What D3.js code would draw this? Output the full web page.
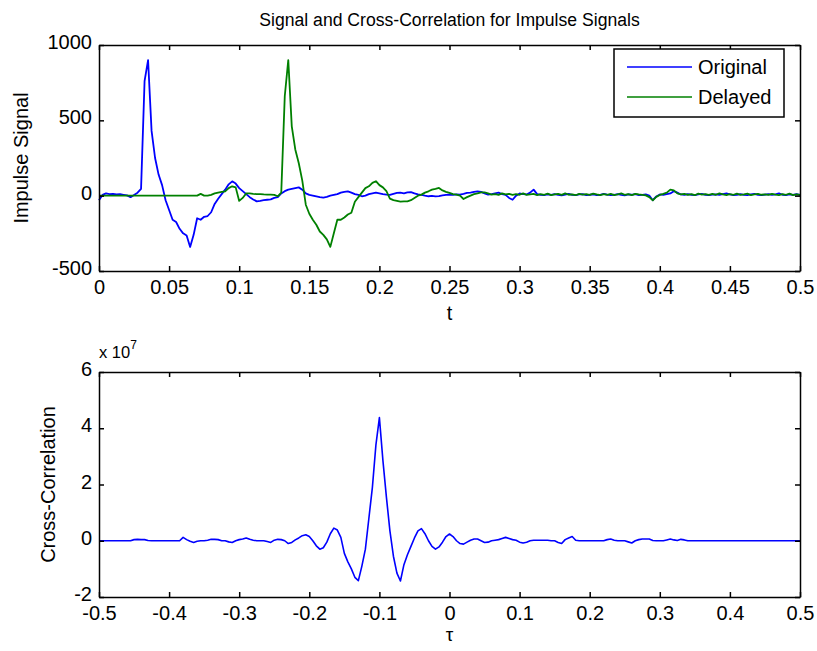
<!DOCTYPE html>
<html>
<head>
<meta charset="utf-8">
<script src="https://cdn.jsdelivr.net/npm/d3@7/dist/d3.min.js"></script>
<style>
  body { margin:0; background:#fff; }
  svg { display:block; font-family:"Liberation Sans", Arial, sans-serif; }
  .axis path, .axis line { stroke:#000; stroke-width:1.5; }
  .axis text { font-size:20px; fill:#000; font-family:"Liberation Sans", Arial, sans-serif; }
</style>
</head>
<body>
<svg id="chart" width="817" height="651"></svg>
<script>
// time grid of the two impulse signals (s) and lag grid of the correlation (s)
const signalTime = d3.range(201).map(i => i * 0.0025);
const lagTime = d3.range(201).map(i => -0.5 + i * 0.005);

// rows of 10 samples = 0.025 s each
const original = [
  -30, 5, 15, 10, 12, 8, 10, 6, 2, -10,
  5, 20, 45, 760, 900, 430, 250, 140, 70, -30,
  -95, -160, -175, -220, -250, -265, -340, -260, -150, -160,
  -140, -135, -110, -55, -20, 10, 40, 75, 95, 80,
  50, 30, 10, -10, -25, -38, -35, -30, -27, -25,
  -15, -10, 15, 30, 40, 45, 50, 55, 40, 15,
  5, 0, -5, -10, -13, -8, 0, 5, 10, 20,
  25, 29, 20, 10, 5, -4, 0, 10, 15, 20,
  15, 10, 7, 5, 12, 18, 20, 15, 22, 24,
  15, 8, 5, 0, -4, -2, -5, -3, 2, 5,
  7, 5, 8, 7, 12, 18, 20, 25, 29, 25,
  15, 7, 10, 15, 20, 10, 5, -15, -27, 0,
  15, 10, 8, 20, 40, 10, 5, 3, 8, 5,
  10, 6, 2, 7, 12, 5, 3, 8, 10, 4,
  6, 9, 3, 5, 12, 7, 4, 6, 10, 5,
  2, 8, 6, 10, 4, 5, 8, 0, -30, -5,
  8, 5, 10, 15, 30, 20, 8, 5, 10, 6,
  4, 8, 12, 6, 3, 7, 9, 5, 10, 15,
  8, 4, 6, 10, 5, 3, 8, 12, 6, 4,
  7, 10, 5, 8, 15, 6, 3, 8, 5, 10,
  6
];

const delayed = [
  0, 0, 0, 0, 0, 0, 0, 0, 0, 0,
  0, 0, 0, 0, 0, 0, 0, 0, 0, 0,
  0, 0, 0, 0, 0, 0, 0, 0, 0, 12,
  0, 0, 5, 15, 20, 25, 29, 50, 62, 55,
  -35, -15, 15, 15, 12, 10, 10, 8, 7, 7,
  5, -4, 20, 660, 900, 460, 307, 215, 100, -60,
  -120, -160, -193, -238, -260, -290, -340, -250, -160, -160,
  -145, -125, -113, -40, -10, 20, 50, 62, 85, 96,
  70, 55, 30, -20, -30, -35, -40, -38, -38, -30,
  -15, 0, 7, 20, 29, 40, 45, 51, 35, 25,
  18, 10, 7, 0, -22, -10, 0, 10, 15, 22,
  22, 15, 7, 10, 5, 15, 8, 12, 5, 10,
  6, 15, 5, 8, 12, 3, 10, 6, 14, 4,
  8, 12, 5, 15, 6, 9, 3, 12, 7, 10,
  5, 14, 8, 3, 10, 6, 12, 4, 9, 15,
  6, 10, 4, 12, 8, 5, 2, -10, -31, -8,
  5, 12, 20, 40, 35, 15, 8, 12, 5, 10,
  3, 14, 7, 10, 5, 12, 6, 15, 8, 4,
  10, 6, 13, 5, 9, 14, 4, 8, 12, 6,
  9, 5, 12, 7, 3, 10, 6, 14, 4, 8,
  5
];

// cross-correlation in units of 1e7, rows of 10 samples = 0.05 s of lag
const crossCorr = [
  0, 0, 0, 0, 0, 0, 0, 0, 0, 0,
  0.04, 0.05, 0.04, 0.04, 0.01, 0, 0, 0, 0, 0,
  0, 0, 0, 0, 0.12, 0.04, -0.02, -0.06, -0.02, 0,
  0, 0.02, 0.05, 0.05, 0.04, 0, 0, -0.04, -0.06, 0,
  0.04, 0.06, 0.1, 0.05, 0.02, 0, 0, 0, -0.03, -0.06,
  0.02, 0.05, 0.04, 0, -0.1, -0.06, 0.03, 0.1, 0.18, 0.21,
  0.15, 0, -0.18, -0.3, -0.25, -0.05, 0.25, 0.45, 0.38, 0.12,
  -0.45, -0.75, -1.0, -1.3, -1.42, -0.9, -0.3, 0.8, 1.9, 3.4,
  4.38, 2.86, 1.55, 0.35, -0.55, -1.15, -1.43, -0.85, -0.5, -0.2,
  0.1, 0.35, 0.43, 0.25, 0, -0.2, -0.3, -0.22, -0.05, 0.15,
  0.24, 0.15, 0, -0.1, -0.12, -0.05, 0.02, 0.06, 0.06, 0,
  -0.06, -0.05, 0, 0.02, 0.04, 0.08, 0.12, 0.08, 0.04, 0.02,
  -0.05, -0.08, -0.05, 0, 0.02, 0.02, 0.02, 0.02, 0.02, 0,
  0, -0.06, -0.1, 0.04, 0.1, 0.15, 0.02, 0, 0, 0,
  0, 0, 0, 0, 0, 0.04, 0.06, 0.02, 0, 0,
  0, -0.04, -0.08, 0, 0.04, 0.06, 0.06, 0.06, 0.01, 0,
  0, 0, 0.03, 0.06, 0.03, 0.01, 0.05, 0.03, 0, 0,
  0, 0, 0, 0, 0, 0, 0, 0, 0, 0,
  0, 0, 0, 0, 0, 0, 0, 0, 0, 0,
  0, 0, 0, 0, 0, 0, 0, 0, 0, 0,
  0
];

const tTicks = [0, 0.05, 0.1, 0.15, 0.2, 0.25, 0.3, 0.35, 0.4, 0.45, 0.5];
const signalTicks = [-500, 0, 500, 1000];
const lagTicks = [-0.5, -0.4, -0.3, -0.2, -0.1, 0, 0.1, 0.2, 0.3, 0.4, 0.5];
const corrTicks = [-2, 0, 2, 4, 6];
const seriesNames = ['Original', 'Delayed'];
const seriesColors = ['#0000ff', '#008000'];

const svg = d3.select('#chart');
const topBox = { x0: 99, x1: 800, y0: 45, y1: 271 },
      botBox = { x0: 99, x1: 800, y0: 372, y1: 597 };

const fmt = d => String(+d.toFixed(2));

function drawAxes(box, x, y){
    const g = svg.append('g');
    g.append('g').attr('class','axis').attr('transform',`translate(0,${box.y1})`)
        .call(d3.axisBottom(x).tickValues(x.ticksArr).tickSize(-5).tickSizeOuter(0).tickPadding(9).tickFormat(fmt));
    g.append('g').attr('class','axis').attr('transform',`translate(0,${box.y0})`)
        .call(d3.axisTop(x).tickValues(x.ticksArr).tickSize(-5).tickSizeOuter(0).tickFormat(''));
    g.append('g').attr('class','axis').attr('transform',`translate(${box.x0},0)`)
        .call(d3.axisLeft(y).tickValues(y.ticksArr).tickSize(-5).tickSizeOuter(0).tickPadding(7).tickFormat(fmt))
        .selectAll('text').attr('dy','0.18em');
    g.append('g').attr('class','axis').attr('transform',`translate(${box.x1},0)`)
        .call(d3.axisRight(y).tickValues(y.ticksArr).tickSize(-5).tickSizeOuter(0).tickFormat(''));
    return g;
}

// ---- top: signals
const xT = d3.scaleLinear().domain([0, 0.5]).range([topBox.x0, topBox.x1]);
const yT = d3.scaleLinear().domain([-500, 1000]).range([topBox.y1, topBox.y0]);
xT.ticksArr = tTicks; yT.ticksArr = signalTicks;

[original, delayed].forEach((s, k) => {
    svg.append('path')
        .datum(s)
        .attr('fill','none')
        .attr('stroke', seriesColors[k])
        .attr('stroke-width', 1.8)
        .attr('stroke-linejoin','round')
        .attr('d', d3.line().x((d,i) => xT(signalTime[i])).y(d => yT(d)));
});
drawAxes(topBox, xT, yT);

svg.append('text').attr('x',(topBox.x0+topBox.x1)/2).attr('y',26)
    .attr('text-anchor','middle').style('font-size','17.6px').text('Signal and Cross-Correlation for Impulse Signals');
svg.append('text').attr('x',(topBox.x0+topBox.x1)/2).attr('y',320)
    .attr('text-anchor','middle').style('font-size','20px').text('t');
svg.append('text').attr('transform',`translate(28,${(topBox.y0+topBox.y1)/2}) rotate(-90)`)
    .attr('text-anchor','middle').style('font-size','20px').text('Impulse Signal');

// legend
const leg = svg.append('g');
leg.append('rect').attr('x',614).attr('y',49).attr('width',170).attr('height',68)
    .attr('fill','#fff').attr('stroke','#000').attr('stroke-width',1.5);
seriesNames.forEach((name, k) => {
    const yy = 67 + k*30;
    leg.append('line').attr('x1',627).attr('x2',692).attr('y1',yy).attr('y2',yy)
        .attr('stroke',seriesColors[k]).attr('stroke-width',1.5);
    leg.append('text').attr('x',698).attr('y',yy+7).style('font-size','20px').text(name);
});

// ---- bottom: cross-correlation
const xB = d3.scaleLinear().domain([-0.5, 0.5]).range([botBox.x0, botBox.x1]);
const yB = d3.scaleLinear().domain([-2, 6]).range([botBox.y1, botBox.y0]);
xB.ticksArr = lagTicks; yB.ticksArr = corrTicks;

svg.append('path')
    .datum(crossCorr)
    .attr('fill','none')
    .attr('stroke','#0000ff')
    .attr('stroke-width',1.6)
    .attr('stroke-linejoin','round')
    .attr('d', d3.line().x((d,i) => xB(lagTime[i])).y(d => yB(d)));
drawAxes(botBox, xB, yB);

const ex = svg.append('text').attr('x',99).attr('y',358).style('font-size','16.5px');
ex.append('tspan').text('x 10');
ex.append('tspan').attr('dy',-9).style('font-size','12px').text('7');

svg.append('text').attr('x',(botBox.x0+botBox.x1)/2).attr('y',641)
    .attr('text-anchor','middle').style('font-size','19px').text('τ');
svg.append('text').attr('transform',`translate(55,${(botBox.y0+botBox.y1)/2}) rotate(-90)`)
    .attr('text-anchor','middle').style('font-size','20px').text('Cross-Correlation');
</script>
</body>
</html>
